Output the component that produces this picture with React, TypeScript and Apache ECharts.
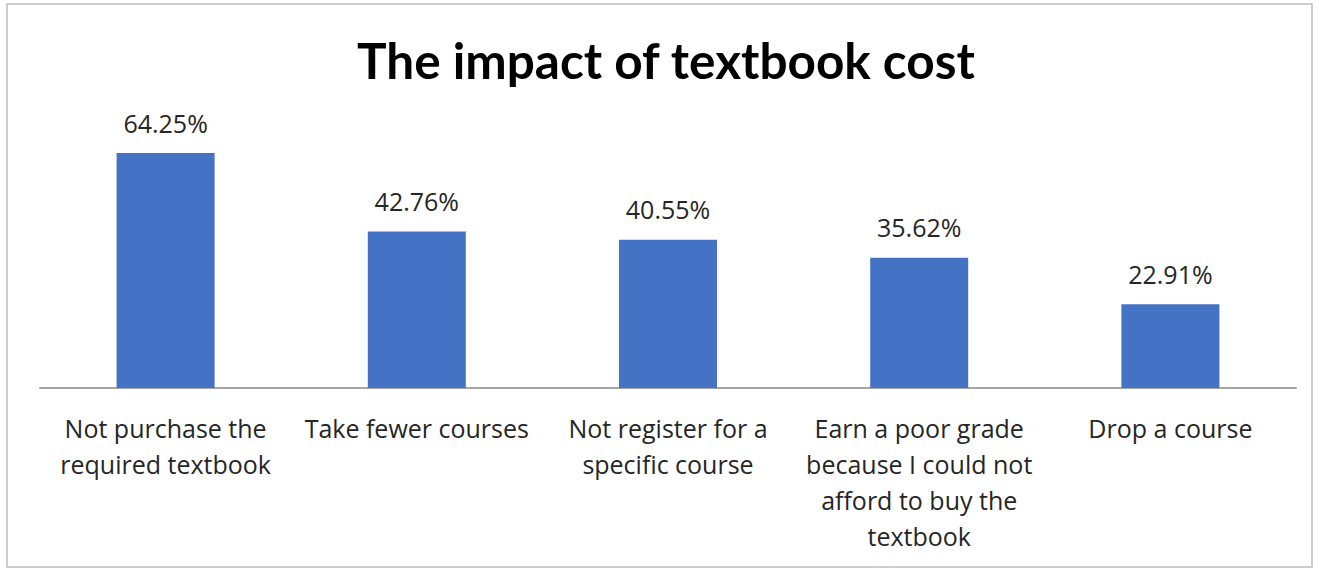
import React, { useEffect, useRef } from "react";
import * as echarts from "echarts";

const categories = [
  "Not purchase the\nrequired textbook",
  "Take fewer courses",
  "Not register for a\nspecific course",
  "Earn a poor grade\nbecause I could not\nafford to buy the\ntextbook",
  "Drop a course",
];
const values = [64.25, 42.76, 40.55, 35.62, 22.91];
const titleText = "The impact of textbook cost";

export default function App() {
  const ref = useRef<HTMLDivElement>(null);
  useEffect(() => {
    document.body.style.margin = "0";
    const chart = echarts.init(ref.current!, null, { renderer: "svg" });
    chart.setOption({
      animation: false,
      backgroundColor: "#ffffff",
      title: {
        text: titleText,
        left: 352,
        top: 30,
        textStyle: {
          fontFamily: "Lato",
          fontWeight: "bold",
          fontSize: 49.5,
          color: "#000000",
        },
      },
      graphic: [
        {
          type: "rect",
          shape: { x: 7, y: 4, width: 1305, height: 563 },
          style: { fill: "none", stroke: "#BDBDBD", lineWidth: 1.5 },
          silent: true,
        },
      ],
      grid: { left: 40, right: 24, top: 132, bottom: 182 },
      xAxis: {
        type: "category",
        data: categories,
        axisLine: { show: true, lineStyle: { color: "#A6A6A6", width: 2 } },
        axisTick: { show: false },
        axisLabel: {
          interval: 0,
          margin: 22,
          fontFamily: "Open Sans",
          fontSize: 25,
          lineHeight: 36,
          color: "#262626",
          verticalAlign: "top",
        },
      },
      yAxis: {
        type: "value",
        min: 0,
        max: 70,
        show: false,
        splitLine: { show: false },
      },
      series: [
        {
          type: "bar",
          data: values,
          barWidth: 98,
          itemStyle: { color: "#4472C4" },
          label: {
            show: true,
            position: "top",
            distance: 18,
            fontFamily: "Open Sans",
            fontSize: 25,
            color: "#262626",
            formatter: (p: any) => p.value.toFixed(2) + "%",
          },
        },
      ],
    });
    return () => chart.dispose();
  }, []);
  return <div ref={ref} style={{ width: 1320, height: 570 }} />;
}
